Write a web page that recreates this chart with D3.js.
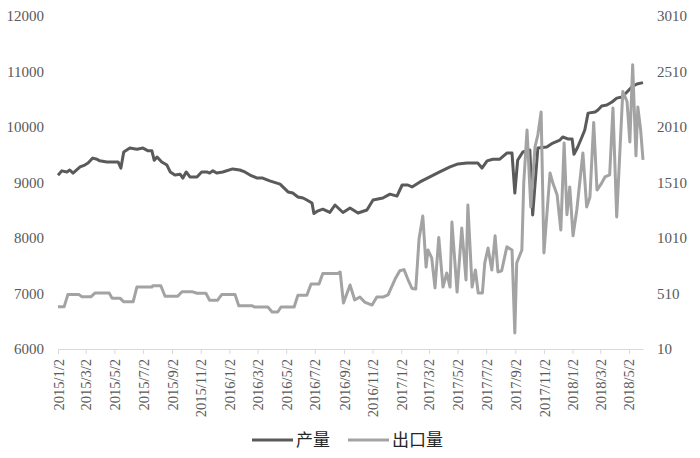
<!DOCTYPE html>
<html>
<head>
<meta charset="utf-8">
<script src="https://cdn.jsdelivr.net/npm/d3@7"></script>
<style>
  html, body { margin: 0; padding: 0; background: #fff; }
  svg { display: block; }
</style>
</head>
<body>
<svg id="chart" width="700" height="458"></svg>
<script>
// x-axis tick labels (every two months)
const tickLabels = [
  "2015/1/2", "2015/3/2", "2015/5/2", "2015/7/2", "2015/9/2", "2015/11/2",
  "2016/1/2", "2016/3/2", "2016/5/2", "2016/7/2", "2016/9/2", "2016/11/2",
  "2017/1/2", "2017/3/2", "2017/5/2", "2017/7/2", "2017/9/2", "2017/11/2",
  "2018/1/2", "2018/3/2", "2018/5/2"
];

const leftTicks = [6000, 7000, 8000, 9000, 10000, 11000, 12000];
const rightTicks = [10, 510, 1010, 1510, 2010, 2510, 3010];

const seriesNames = ["产量", "出口量"];

// 产量 (left axis)
const output = [
  ["2015-01-02", 9130], ["2015-01-10", 9210], ["2015-01-21", 9190], ["2015-01-27", 9225],
  ["2015-02-03", 9170], ["2015-02-18", 9280], ["2015-02-28", 9315], ["2015-03-07", 9350],
  ["2015-03-17", 9440], ["2015-03-26", 9420], ["2015-04-01", 9390], ["2015-04-16", 9370],
  ["2015-05-10", 9370], ["2015-05-16", 9260], ["2015-05-22", 9550], ["2015-06-04", 9620],
  ["2015-06-19", 9600], ["2015-07-02", 9620], ["2015-07-13", 9570], ["2015-07-21", 9570],
  ["2015-07-26", 9400], ["2015-08-01", 9460], ["2015-08-11", 9370], ["2015-08-22", 9315],
  ["2015-08-29", 9190], ["2015-09-08", 9135], ["2015-09-19", 9150], ["2015-09-25", 9080],
  ["2015-10-02", 9190], ["2015-10-10", 9100], ["2015-10-25", 9100], ["2015-11-04", 9190],
  ["2015-11-15", 9190], ["2015-11-21", 9170], ["2015-11-28", 9210], ["2015-12-06", 9170],
  ["2015-12-19", 9190], ["2016-01-09", 9245], ["2016-01-24", 9225], ["2016-02-04", 9190],
  ["2016-02-15", 9135], ["2016-03-01", 9080], ["2016-03-13", 9080], ["2016-03-28", 9030],
  ["2016-04-19", 8970], ["2016-04-25", 8920], ["2016-05-06", 8830], ["2016-05-16", 8810],
  ["2016-05-27", 8740], ["2016-06-07", 8720], ["2016-06-15", 8685], ["2016-06-26", 8630],
  ["2016-06-30", 8440], ["2016-07-09", 8490], ["2016-07-19", 8520], ["2016-08-03", 8460],
  ["2016-08-14", 8595], ["2016-08-31", 8460], ["2016-09-15", 8540], ["2016-10-02", 8450],
  ["2016-10-21", 8505], ["2016-11-03", 8685], ["2016-11-24", 8720], ["2016-12-09", 8790],
  ["2016-12-24", 8755], ["2017-01-04", 8955], ["2017-01-16", 8955], ["2017-01-25", 8920],
  ["2017-02-11", 9010], ["2017-03-04", 9100], ["2017-03-25", 9190], ["2017-04-16", 9280],
  ["2017-05-03", 9335], ["2017-05-22", 9350], ["2017-06-14", 9350], ["2017-06-23", 9260],
  ["2017-07-04", 9390], ["2017-07-16", 9420], ["2017-07-31", 9420], ["2017-08-15", 9530],
  ["2017-08-26", 9530], ["2017-09-01", 8810], ["2017-09-07", 9400], ["2017-09-18", 9550],
  ["2017-10-03", 9585], ["2017-10-09", 8415], ["2017-10-20", 9620], ["2017-11-08", 9640],
  ["2017-11-21", 9710], ["2017-12-06", 9765], ["2017-12-12", 9820], ["2017-12-23", 9785],
  ["2018-01-01", 9785], ["2018-01-05", 9510], ["2018-01-13", 9640], ["2018-01-22", 9820],
  ["2018-01-28", 9945], ["2018-02-04", 10250], ["2018-02-19", 10270], ["2018-02-25", 10305],
  ["2018-03-05", 10380], ["2018-03-16", 10395], ["2018-03-27", 10450], ["2018-04-06", 10520],
  ["2018-04-17", 10540], ["2018-04-28", 10630], ["2018-05-08", 10720], ["2018-05-19", 10775],
  ["2018-06-01", 10800]
];

// 出口量 (right axis)
const exports = [
  ["2015-01-02", 390], ["2015-01-15", 390], ["2015-01-23", 500], ["2015-02-16", 500],
  ["2015-02-22", 480], ["2015-03-13", 480], ["2015-03-22", 515], ["2015-04-21", 515],
  ["2015-04-27", 468], ["2015-05-14", 468], ["2015-05-22", 435], ["2015-06-11", 435],
  ["2015-06-19", 568], ["2015-07-21", 568], ["2015-07-23", 580], ["2015-08-09", 580],
  ["2015-08-18", 485], ["2015-09-14", 485], ["2015-09-23", 525], ["2015-10-16", 525],
  ["2015-10-25", 512], ["2015-11-13", 512], ["2015-11-21", 450], ["2015-12-08", 450],
  ["2015-12-17", 502], ["2016-01-14", 502], ["2016-01-22", 400], ["2016-02-19", 400],
  ["2016-02-25", 388], ["2016-03-24", 388], ["2016-04-02", 343], ["2016-04-14", 343],
  ["2016-04-21", 388], ["2016-05-19", 388], ["2016-05-27", 495], ["2016-06-15", 495],
  ["2016-06-24", 595], ["2016-07-11", 595], ["2016-07-19", 690], ["2016-08-20", 690],
  ["2016-08-25", 704], ["2016-09-01", 424], ["2016-09-15", 587], ["2016-09-25", 452],
  ["2016-10-06", 478], ["2016-10-16", 433], ["2016-11-01", 406], ["2016-11-11", 478],
  ["2016-11-24", 478], ["2016-12-05", 497], ["2016-12-20", 640], ["2016-12-30", 715],
  ["2017-01-08", 725], ["2017-01-16", 640], ["2017-01-25", 555], ["2017-02-02", 550],
  ["2017-02-09", 1000], ["2017-02-17", 1208], ["2017-02-24", 748], ["2017-02-28", 902],
  ["2017-03-08", 830], ["2017-03-15", 560], ["2017-03-23", 1015], ["2017-04-01", 568],
  ["2017-04-09", 695], ["2017-04-16", 568], ["2017-04-20", 1154], ["2017-05-01", 523],
  ["2017-05-11", 1100], ["2017-05-20", 632], ["2017-05-24", 1307], ["2017-06-02", 568],
  ["2017-06-09", 722], ["2017-06-15", 515], ["2017-06-24", 515], ["2017-06-29", 785],
  ["2017-07-06", 920], ["2017-07-14", 722], ["2017-07-21", 1030], ["2017-07-27", 704],
  ["2017-08-04", 715], ["2017-08-15", 930], ["2017-08-26", 902], ["2017-09-01", 154],
  ["2017-09-05", 785], ["2017-09-16", 902], ["2017-09-20", 1505], ["2017-09-27", 1983],
  ["2017-10-05", 1290], ["2017-10-14", 1830], ["2017-10-20", 1938], ["2017-10-27", 2145],
  ["2017-11-02", 875], ["2017-11-15", 1596], ["2017-11-21", 1505], ["2017-11-30", 1400],
  ["2017-12-08", 1082], ["2017-12-15", 1866], ["2017-12-21", 1220], ["2017-12-27", 1470],
  ["2018-01-03", 1030], ["2018-01-11", 1262], ["2018-01-24", 1776], ["2018-02-01", 1290],
  ["2018-02-08", 1380], ["2018-02-16", 2050], ["2018-02-23", 1442], ["2018-03-05", 1505],
  ["2018-03-12", 1560], ["2018-03-22", 1578], ["2018-03-29", 2182], ["2018-04-06", 1200],
  ["2018-04-19", 2330], ["2018-04-28", 2240], ["2018-05-04", 1875], ["2018-05-10", 2570],
  ["2018-05-17", 1750], ["2018-05-21", 2190], ["2018-05-27", 1983], ["2018-06-01", 1713]
];

const parseDay = d3.timeParse("%Y-%m-%d");
const parseTick = d3.timeParse("%Y/%-m/%-d");

const margin = { top: 16, right: 57, bottom: 109, left: 58 };
const width = 700 - margin.left - margin.right;
const height = 458 - margin.top - margin.bottom;

const svg = d3
  .select("#chart")
  .append("g")
  .attr("transform", `translate(${margin.left},${margin.top})`);

const xScale = d3
  .scaleTime()
  .domain([parseDay("2015-01-02"), parseDay("2018-06-01")])
  .range([0, width]);

const yLeft = d3.scaleLinear().domain([6000, 12000]).range([height, 0]);
const yRight = d3.scaleLinear().domain([10, 3010]).range([height, 0]);

const numFont = "'Liberation Serif', 'Times New Roman', serif";

// x axis
const xAxis = svg
  .append("g")
  .attr("class", "x-axis")
  .attr("transform", `translate(0,${height})`)
  .call(
    d3
      .axisBottom(xScale)
      .tickValues(tickLabels.map(parseTick))
      .tickSize(5)
      .tickSizeOuter(0)
      .tickFormat((d, i) => tickLabels[i])
  );

xAxis.select(".domain").attr("stroke", "#d9d9d9");
xAxis.selectAll(".tick line").attr("stroke", "#d9d9d9");
xAxis
  .selectAll("text")
  .attr("transform", "rotate(-90)")
  .attr("x", -10)
  .attr("y", 0)
  .attr("dy", "0.35em")
  .style("text-anchor", "end")
  .style("font-family", numFont)
  .style("font-size", "14.5px")
  .style("fill", "#595959");

// left axis
const leftAxis = svg
  .append("g")
  .attr("class", "y-axis")
  .call(
    d3
      .axisLeft(yLeft)
      .tickValues(leftTicks)
      .tickSize(0)
      .tickPadding(14)
      .tickFormat(d3.format("d"))
  );
leftAxis.select(".domain").remove();
leftAxis
  .selectAll("text")
  .style("font-family", numFont)
  .style("font-size", "15px")
  .style("fill", "#595959");

// right axis
const rightAxis = svg
  .append("g")
  .attr("class", "y-axis-right")
  .attr("transform", `translate(${width},0)`)
  .call(
    d3
      .axisRight(yRight)
      .tickValues(rightTicks)
      .tickSize(0)
      .tickPadding(14)
      .tickFormat(d3.format("d"))
  );
rightAxis.select(".domain").remove();
rightAxis
  .selectAll("text")
  .style("font-family", numFont)
  .style("font-size", "15px")
  .style("fill", "#595959");

const colors = ["#5a5a5a", "#a3a3a3"];

const lineLeft = d3
  .line()
  .x((d) => xScale(parseDay(d[0])))
  .y((d) => yLeft(d[1]));

const lineRight = d3
  .line()
  .x((d) => xScale(parseDay(d[0])))
  .y((d) => yRight(d[1]));

svg
  .append("path")
  .datum(output)
  .attr("fill", "none")
  .attr("stroke", colors[0])
  .attr("stroke-width", 3)
  .attr("stroke-linejoin", "round")
  .attr("d", lineLeft);

svg
  .append("path")
  .datum(exports)
  .attr("fill", "none")
  .attr("stroke", colors[1])
  .attr("stroke-width", 3)
  .attr("stroke-linejoin", "round")
  .attr("d", lineRight);

// legend
const legend = d3.select("#chart").append("g").attr("class", "legend");
const legendX = [252, 348];
seriesNames.forEach((name, i) => {
  const g = legend.append("g").attr("transform", `translate(${legendX[i]},440)`);
  g.append("line")
    .attr("x1", 0)
    .attr("x2", 41)
    .attr("y1", 0)
    .attr("y2", 0)
    .attr("stroke", colors[i])
    .attr("stroke-width", 3);
  g.append("text")
    .attr("x", 44)
    .attr("y", 0)
    .attr("dy", "0.36em")
    .style("font-family", "'Noto Sans CJK SC', sans-serif")
    .style("font-size", "17px")
    .style("fill", "#262626")
    .text(name);
});
</script>
</body>
</html>
